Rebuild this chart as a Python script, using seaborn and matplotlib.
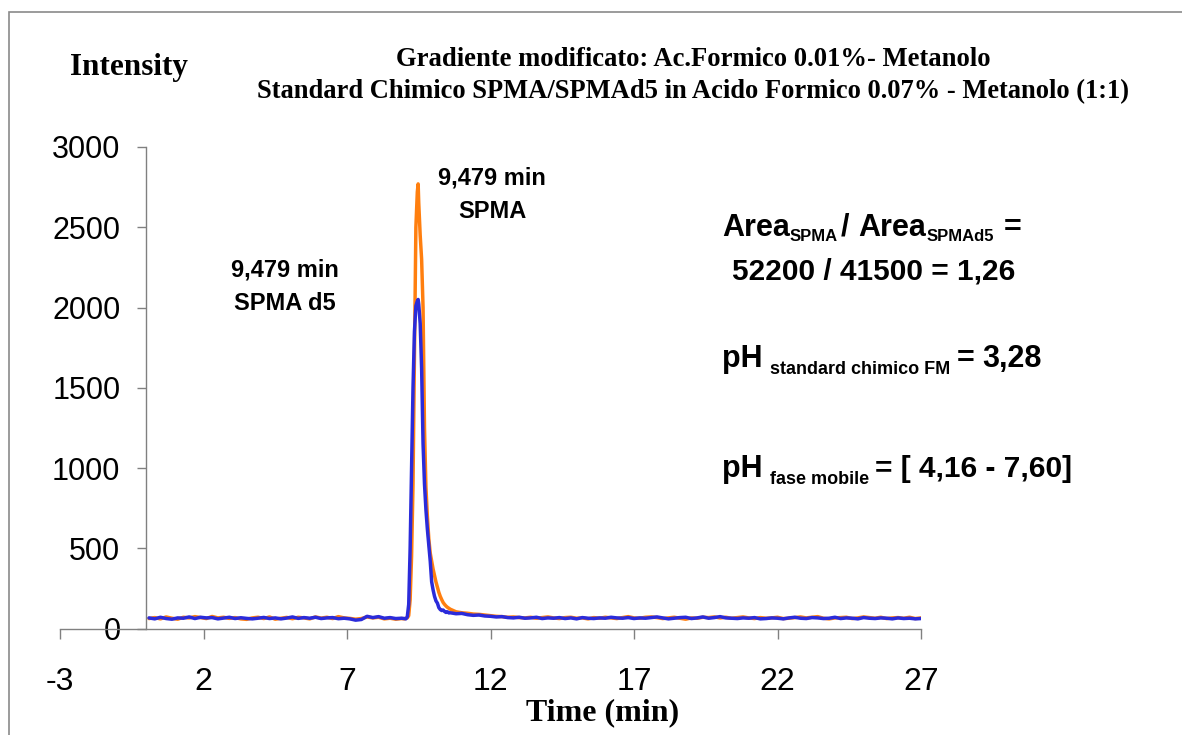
import matplotlib
matplotlib.use("Agg")
import matplotlib.pyplot as plt
import seaborn as sns
from matplotlib.patches import Rectangle

sns.set_theme(style="white")
plt.rcParams['font.family'] = ['Liberation Sans', 'DejaVu Sans']
plt.rcParams['text.color'] = 'black'

# Retention time (min)
time_min = [
    0.1, 0.3, 0.5, 0.7, 0.9, 1.1, 1.3, 1.5, 1.7, 1.9,
    2.1, 2.3, 2.5, 2.7, 2.9, 3.1, 3.3, 3.5, 3.7, 3.9,
    4.1, 4.3, 4.5, 4.7, 4.9, 5.1, 5.3, 5.5, 5.7, 5.9,
    6.1, 6.3, 6.5, 6.7, 6.9, 7.1, 7.3, 7.5, 7.7, 7.9,
    8.1, 8.3, 8.5, 8.7, 8.9,
    9.00, 9.05, 9.10, 9.15, 9.20, 9.25, 9.30, 9.35, 9.40, 9.45,
    9.479, 9.50, 9.55, 9.60, 9.65, 9.70, 9.75, 9.80, 9.85, 9.90,
    9.95, 10.00, 10.05, 10.10, 10.15, 10.20, 10.25, 10.30, 10.35, 10.40,
    10.45, 10.50, 10.55, 10.60,
    10.8, 11.0, 11.2, 11.4, 11.6, 11.8, 12.0, 12.2, 12.4, 12.6,
    12.8, 13.0, 13.2, 13.4, 13.6, 13.8, 14.0, 14.2, 14.4, 14.6,
    14.8, 15.0, 15.2, 15.4, 15.6, 15.8, 16.0, 16.2, 16.4, 16.6,
    16.8, 17.0, 17.2, 17.4, 17.6, 17.8, 18.0, 18.2, 18.4, 18.6,
    18.8, 19.0, 19.2, 19.4, 19.6, 19.8, 20.0, 20.2, 20.4, 20.6,
    20.8, 21.0, 21.2, 21.4, 21.6, 21.8, 22.0, 22.2, 22.4, 22.6,
    22.8, 23.0, 23.2, 23.4, 23.6, 23.8, 24.0, 24.2, 24.4, 24.6,
    24.8, 25.0, 25.2, 25.4, 25.6, 25.8, 26.0, 26.2, 26.4, 26.6,
    26.8, 27.0,
]

# SPMA trace (intensity)
spma = [
    62, 68, 60, 72, 64, 58, 70, 66, 74, 68,
    62, 75, 66, 70, 63, 68, 60, 57, 66, 70,
    62, 72, 58, 64, 69, 61, 70, 66, 60, 72,
    65, 70, 62, 74, 66, 63, 58, 62, 72, 66,
    70, 60, 64, 58, 62,
    60, 64, 66, 80, 180, 450, 900, 1700, 2500, 2720,
    2770, 2650, 2450, 2300, 2000, 1250, 880, 700, 560, 470,
    420, 370, 330, 290, 258, 225, 200, 180, 162, 150,
    140, 132, 126, 120,
    104, 98, 95, 90, 88, 84, 80, 76, 74, 70,
    72, 68, 66, 70, 64, 68, 72, 66, 62, 68,
    70, 64, 66, 60, 68, 64, 70, 66, 62, 68,
    74, 66, 64, 70, 72, 68, 62, 66, 70, 64,
    58, 66, 64, 70, 68, 72, 66, 70, 64, 68,
    72, 66, 62, 68, 64, 66, 70, 62, 64, 68,
    72, 66, 70, 74, 64, 60, 66, 68, 70, 62,
    66, 72, 68, 64, 70, 62, 66, 68, 64, 70,
    62, 66,
]

# SPMA d5 trace (intensity)
spma_d5 = [
    66, 60, 70, 62, 58, 66, 64, 72, 62, 70,
    66, 68, 60, 65, 70, 62, 67, 63, 60, 64,
    69, 62, 66, 60, 65, 72, 63, 68, 64, 70,
    62, 66, 68, 61, 64, 60, 52, 56, 76, 68,
    74, 64, 68, 62, 64,
    62, 60, 72, 150, 500, 1000, 1500, 1850, 2010, 2040,
    2050, 2020, 1900, 1620, 1150, 900, 740, 620, 520, 420,
    290, 240, 200, 172, 158, 130, 118, 112, 115, 106,
    100, 104, 97, 98,
    92, 94, 86, 82, 84, 78, 76, 72, 74, 68,
    66, 70, 64, 66, 70, 62, 66, 64, 68, 62,
    66, 60, 68, 64, 62, 66, 64, 70, 66, 64,
    68, 62, 66, 64, 68, 72, 66, 60, 64, 68,
    70, 62, 66, 72, 64, 68, 74, 66, 64, 62,
    66, 64, 68, 60, 62, 66, 64, 60, 66, 70,
    64, 62, 68, 66, 62, 64, 70, 62, 66, 64,
    60, 68, 64, 62, 66, 64, 60, 66, 62, 64,
    60, 62,
]

x_ticks = [-3, 2, 7, 12, 17, 22, 27]
y_ticks = [0, 500, 1000, 1500, 2000, 2500, 3000]

W, H = 1182, 735
fig = plt.figure(figsize=(W / 100, H / 100), dpi=100)
fig.patch.set_facecolor("white")

# page frame
fig.patches.append(Rectangle((9 / W, -0.2), 2.0, 1.2 - 12 / H,
                             transform=fig.transFigure, fill=False,
                             edgecolor="#8a8a8a", linewidth=1.2))

ax = fig.add_axes([60 / W, 1 - 628.5 / H, 861 / W, 481.5 / H])
ax.set_facecolor("none")

sns.lineplot(x=time_min, y=spma, color="#FF7F0F", linewidth=2.5,
             estimator=None, sort=False, ax=ax)
sns.lineplot(x=time_min, y=spma_d5, color="#2B2BDA", linewidth=2.5,
             estimator=None, sort=False, ax=ax)

ax.set_xlim(-3, 27)
ax.set_ylim(0, 3000)
ax.set_xticks(x_ticks)
ax.set_yticks(y_ticks)
ax.set_xticklabels([str(v) for v in x_ticks])
ax.set_yticklabels([str(v) for v in y_ticks])
ax.set_xlabel("")
ax.set_ylabel("")

for s in ("top", "right"):
    ax.spines[s].set_visible(False)
ax.spines["left"].set_position(("data", 0))
for s in ("left", "bottom"):
    ax.spines[s].set_color("#808080")
    ax.spines[s].set_linewidth(1.0)

ax.tick_params(axis="x", direction="out", length=7, width=1.0, color="#808080",
               pad=21, labelsize=23, labelcolor="black", bottom=True)
ax.tick_params(axis="y", direction="out", length=6.5, width=1.0, color="#808080",
               pad=12, labelsize=22, labelcolor="black", left=True)
ax.grid(False)

serif = ["Liberation Serif", "DejaVu Serif"]
sans = ["Liberation Sans", "DejaVu Sans"]

fig.text(70 / W, 1 - 67 / H, "Intensity", family=serif, weight="bold",
         fontsize=22.5, ha="left", va="center", color="black")
fig.text(693 / W, 1 - 60 / H, "Gradiente modificato: Ac.Formico 0.01%- Metanolo",
         family=serif, weight="bold", fontsize=19.2, ha="center", va="center",
         color="black")
fig.text(693 / W, 1 - 92 / H,
         "Standard Chimico SPMA/SPMAd5 in Acido Formico 0.07% - Metanolo (1:1)",
         family=serif, weight="bold", fontsize=19.1, ha="center", va="center",
         color="black")
fig.text(603 / W, 1 - 713 / H, "Time (min)", family=serif, weight="bold",
         fontsize=23, ha="center", va="center", color="black")

# peak labels
fig.text(492 / W, 1 - 178 / H, "9,479 min", family=sans, weight="bold",
         fontsize=17, ha="center", va="center", color="black")
fig.text(492 / W, 1 - 212 / H, "SPMA", family=sans, weight="bold",
         fontsize=17, ha="center", va="center", color="black")
fig.text(285 / W, 1 - 270 / H, "9,479 min", family=sans, weight="bold",
         fontsize=17, ha="center", va="center", color="black")
fig.text(285 / W, 1 - 304 / H, "SPMA d5", family=sans, weight="bold",
         fontsize=17, ha="center", va="center", color="black")

renderer = fig.canvas.get_renderer()


def rich_line(x_px, base_px, parts):
    """Write text pieces one after the other on a common baseline.
    parts: (string, fontsize, drop_px, gap_before_px)"""
    x = x_px
    for s, size, drop, gap in parts:
        x += gap
        t = fig.text(x / W, 1 - (base_px + drop) / H, s, family=sans,
                     weight="bold", fontsize=size, ha="left", va="baseline",
                     color="black")
        x += t.get_window_extent(renderer).width


rich_line(722, 236, [("Area", 22, 0, 0), ("SPMA", 12, 5, 0),
                     ("/", 22, 0, 3), ("Area", 22, 0, 9),
                     ("SPMAd5", 12, 5, 0), ("=", 22, 0, 10)])
rich_line(732, 280, [("52200 / 41500 = 1,26", 21.5, 0, 0)])
rich_line(722, 367, [("pH", 22, 0, 0), ("standard chimico FM", 13, 7, 8),
                     ("=", 22, 0, 6), ("3,28", 22, 0, 8)])
rich_line(722, 477, [("pH", 22, 0, 0), ("fase mobile", 13, 7, 8),
                     ("= [ 4,16 - 7,60]", 21.5, 0, 5)])

fig.savefig("out.png", dpi=100, facecolor="white")
